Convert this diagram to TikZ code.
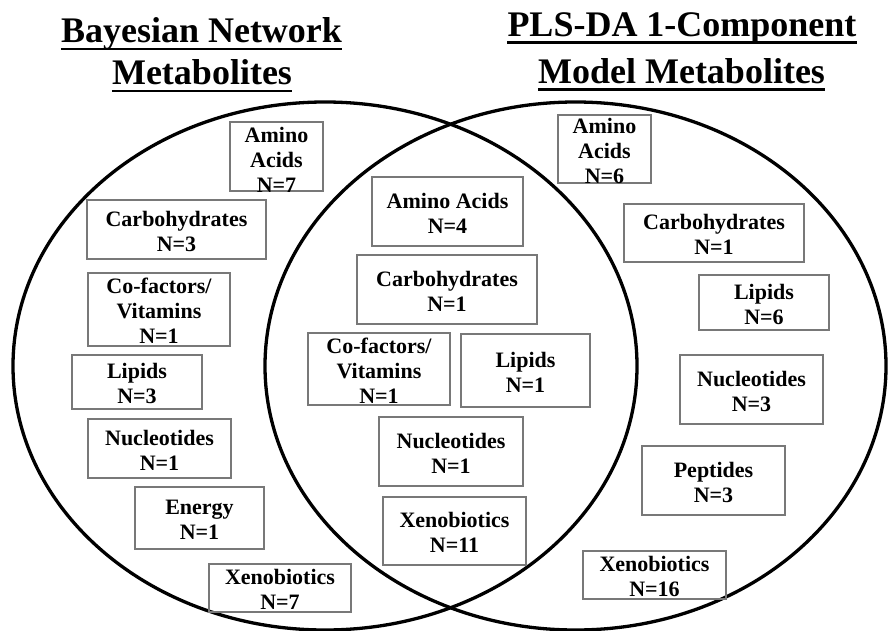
\documentclass[tikz,border=0pt]{standalone}
\usepackage{fontspec}
\setmainfont{Liberation Serif}
\usetikzlibrary{fit,shapes.geometric}
\definecolor{boxgray}{RGB}{120,120,120}
\begin{document}
\begin{tikzpicture}[x=1pt,y=-1pt,
  box/.style={draw=boxgray, line width=1.1pt, inner sep=0pt},
  lbl/.style={font=\fontsize{22}{25}\selectfont\bfseries, align=center, inner sep=0pt},
  ttl/.style={font=\fontsize{36}{40}\selectfont\bfseries, inner sep=0pt, anchor=base},
  uline/.style={line width=2.8pt},
  venn/.style={ellipse, draw, line width=3.3pt, inner sep=0pt}]
\useasboundingbox (0,0) rectangle (888,631);
\fill[white] (0,0) rectangle (888,631);

% sets
\node[venn, minimum width=624pt, minimum height=528pt] (setA) at (325,366) {};
\node[venn, minimum width=621pt, minimum height=528pt] (setB) at (575.5,366) {};

% titles
\node[ttl] (t1) at (201.5,43) {Bayesian Network};
\node[ttl] (t2) at (202,85) {Metabolites};
\node[ttl] (t3) at (682,36.7) {PLS-DA 1-Component};
\node[ttl] (t4) at (681.5,83.3) {Model Metabolites};
\foreach \t in {t1,t2,t3,t4}
  \draw[uline] ([yshift=-6pt]\t.base west) -- ([yshift=-6pt]\t.base east);

\newcommand\bx[7][-1.5pt]{%
  \coordinate (#2a) at (#3,#4);
  \coordinate (#2b) at (#5,#6);
  \node[box, fit=(#2a)(#2b)] (#2) {};
  \node[lbl] (#2t) at ([yshift=#1]#2.center) {#7};
}

% left only
\bx[-3pt]{L1}{230}{122}{323}{191}{Amino\\Acids\\N=7}
\bx{L2}{87}{200}{266}{259}{Carbohydrates\\N=3}
\bx{L3}{88}{273}{230}{346}{Co-factors/\\Vitamins\\N=1}
\bx{L4}{72}{355}{202}{409}{Lipids\\N=3}
\bx{L5}{88}{419}{231}{478}{Nucleotides\\N=1}
\bx{L6}{135}{487}{264}{549}{Energy\\N=1}
\bx{L7}{209}{564}{351}{612}{Xenobiotics\\N=7}

% intersection
\bx{C1}{372}{177}{523}{246}{Amino Acids\\N=4}
\bx{C2}{357}{255}{537}{324}{Carbohydrates\\N=1}
\bx{C3}{308}{333}{450}{405}{Co-factors/\\Vitamins\\N=1}
\bx{C4}{461}{334}{590}{407}{Lipids\\N=1}
\bx{C5}{379}{417}{523}{486}{Nucleotides\\N=1}
\bx{C6}{383}{497}{526}{565}{Xenobiotics\\N=11}

% right only
\bx{R1}{558}{115}{651}{183}{Amino\\Acids\\N=6}
\bx{R2}{624}{204}{804}{262}{Carbohydrates\\N=1}
\bx{R3}{699}{275}{829}{330}{Lipids\\N=6}
\bx{R4}{680}{355}{823}{424}{Nucleotides\\N=3}
\bx{R5}{642}{446}{785}{515}{Peptides\\N=3}
\bx{R6}{583}{551}{726}{599}{Xenobiotics\\N=16}
\end{tikzpicture}
\end{document}
